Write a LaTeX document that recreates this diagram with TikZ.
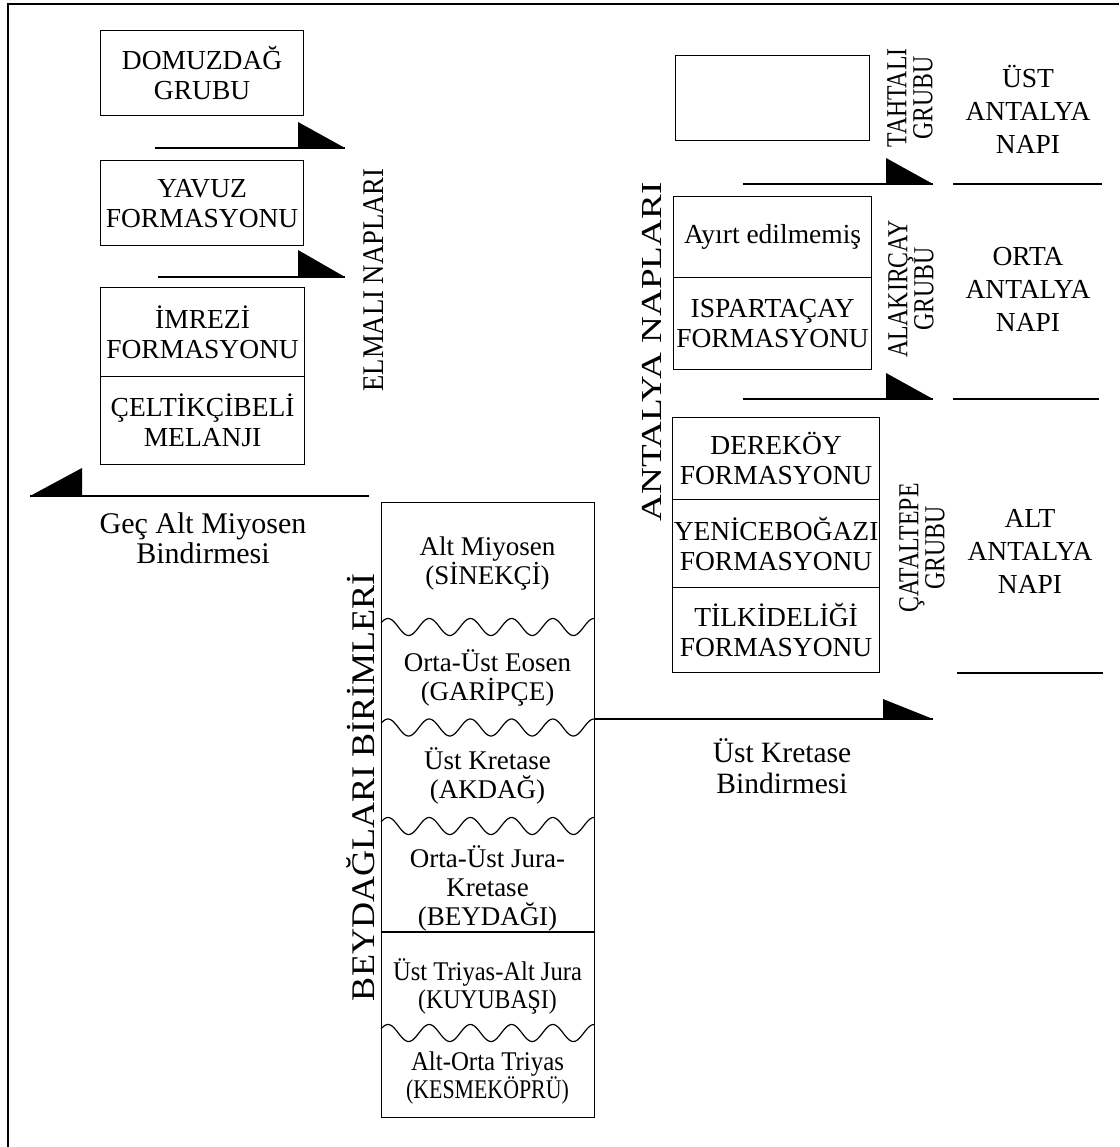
\documentclass[tikz,border=0pt]{standalone}
\usepackage{fontspec}
\setmainfont{Liberation Serif}
\newfontfamily\condfont[FakeStretch=0.82]{Liberation Serif}
\usepackage{graphicx}
\begin{document}
\begin{tikzpicture}[x=1pt,y=-1pt,
  box/.style={draw=black, line width=1.2pt, inner sep=0pt, align=center,
    font=\fontsize{27.5}{30}\selectfont},
  lbl/.style={inner sep=0pt, align=center},
  rot/.style={inner sep=0pt, rotate=90, align=center},
  grp/.style={inner sep=0pt, rotate=90, align=center, font=\condfont\fontsize{29}{26}\selectfont},
  thrust/.style={line width=1.5pt},
  sepline/.style={line width=2.6pt},
  wave/.style={line width=1.2pt},
  tri/.style={fill=black}
]
\useasboundingbox (0,0) rectangle (1119,1147);
% frame
\coordinate (f1) at (8,1147); \coordinate (f2) at (8,4); \coordinate (f3) at (1119,4);
\draw[line width=1.4pt] (f1) -- (f2) -- (f3);

% ---------- Elmali naplari ----------
\node[box, minimum width=203pt, minimum height=85pt, anchor=north west] (domuz) at (100,30) {DOMUZDAĞ\\GRUBU};
\node[box, minimum width=203pt, minimum height=85pt, anchor=north west] (yavuz) at (100,160) {YAVUZ\\FORMASYONU};
\node[box, minimum width=204pt, minimum height=89pt, anchor=north west] (imrezi) at (100,287) {İMREZİ\\FORMASYONU};
\node[box, minimum width=204pt, minimum height=88pt, anchor=north west] (celtik) at (100,376) {ÇELTİKÇİBELİ\\MELANJI};

\coordinate (t1s) at (155,148); \coordinate (t1e) at (345,148);
\draw[thrust] (t1s) -- (t1e);
\fill[tri] (t1e) -- ++(-47,0) -- ++(0,-26) -- cycle;
\coordinate (t2s) at (158,277); \coordinate (t2e) at (345,277);
\draw[thrust] (t2s) -- (t2e);
\fill[tri] (t2e) -- ++(-47,0) -- ++(0,-27) -- cycle;

\node[rot, font=\fontsize{30}{30}\selectfont] (elmali) at (374,280) {\resizebox{223pt}{\height}{ELMALI NAPLARI}};

\coordinate (lts) at (369,496); \coordinate (lte) at (30,496);
\draw[thrust] (lts) -- (lte);
\fill[tri] (lte) -- ++(52,0) -- ++(0,-28) -- cycle;
\node[lbl, font=\fontsize{30}{30}\selectfont] (gec) at (203,538) {Geç Alt Miyosen\\Bindirmesi};

% ---------- Beydaglari ----------
\node[draw=black, line width=1.2pt, inner sep=0pt, minimum width=213pt, minimum height=615pt, anchor=north west] (bey) at (381,502) {};
\foreach \yc in {627,727.5,826,1033}{
  \draw[wave] plot[domain=0:213, samples=160, smooth] ({381+\x},{\yc-8.5*cos((213-\x)*8.7379)});
}
\coordinate (bd1) at (381,932); \coordinate (bd2) at (594,932);
\draw[line width=1.2pt] (bd1) -- (bd2);

\node[lbl, font=\fontsize{27}{29}\selectfont] (b1) at (487.5,564) {Alt Miyosen\\(SİNEKÇİ)};
\node[lbl, font=\fontsize{27}{29}\selectfont] (b2) at (487.5,678) {Orta-Üst Eosen\\(GARİPÇE)};
\node[lbl, font=\fontsize{27}{29}\selectfont] (b3) at (487.5,776) {Üst Kretase\\(AKDAĞ)};
\node[lbl, font=\fontsize{27}{29}\selectfont] (b4) at (487.5,888) {Orta-Üst Jura-\\Kretase\\(BEYDAĞI)};
\node[lbl, font=\fontsize{27}{28}\selectfont] (b5) at (487.5,986) {\scalebox{0.91}[1]{Üst Triyas-Alt Jura}\\\scalebox{0.88}[1]{(KUYUBAŞI)}};
\node[lbl, font=\fontsize{27}{28}\selectfont] (b6) at (487.5,1078) {\scalebox{0.92}[1]{Alt-Orta Triyas}\\\scalebox{0.81}[1]{(KESMEKÖPRÜ)}};

\node[rot, font=\fontsize{33}{33}\selectfont] (beyl) at (361,787) {\resizebox{428pt}{\height}{BEYDAĞLARI BİRİMLERİ}};

\coordinate (uks) at (594,719); \coordinate (uke) at (933,719);
\draw[thrust] (uks) -- (uke);
\fill[tri] (uke) -- ++(-50,0) -- ++(0,-20) -- cycle;
\node[lbl, font=\fontsize{29.5}{31}\selectfont] (ukl) at (782,766) {Üst Kretase\\Bindirmesi};

% ---------- Antalya naplari ----------
\node[box, minimum width=194pt, minimum height=85pt, anchor=north west] (tahtali) at (675,55) {};
\node[box, minimum width=198pt, minimum height=81pt, anchor=north west] (ayirt) at (673,196) {Ayırt edilmemiş};
\node[box, minimum width=198pt, minimum height=92pt, anchor=north west] (isparta) at (673,277) {ISPARTAÇAY\\FORMASYONU};
\node[box, minimum width=207pt, minimum height=82pt, anchor=north west] (dere) at (672,417) {DEREKÖY\\FORMASYONU};
\node[box, minimum width=207pt, minimum height=88pt, anchor=north west] (yeni) at (672,499) {YENİCEBOĞAZI\\FORMASYONU};
\node[box, minimum width=207pt, minimum height=85pt, anchor=north west] (tilki) at (672,587) {TİLKİDELİĞİ\\FORMASYONU};

\node[rot, font=\fontsize{29}{29}\selectfont] (antl) at (652,352) {\resizebox{339pt}{\height}{ANTALYA NAPLARI}};

\node[grp] (tahg) at (910,98) {TAHTALI\\GRUBU};
\node[grp] (alag) at (911,289) {ALAKIRÇAY\\GRUBU};
\node[grp] (catg) at (922,548) {ÇATALTEPE\\GRUBU};

\coordinate (r1s) at (743,184); \coordinate (r1e) at (933,184);
\draw[thrust] (r1s) -- (r1e);
\fill[tri] (r1e) -- ++(-47,0) -- ++(0,-26) -- cycle;
\coordinate (r2s) at (743,399); \coordinate (r2e) at (933,399);
\draw[thrust] (r2s) -- (r2e);
\fill[tri] (r2e) -- ++(-47,0) -- ++(0,-26) -- cycle;

\coordinate (s1a) at (953,184); \coordinate (s1b) at (1102,184);
\draw[sepline] (s1a) -- (s1b);
\coordinate (s2a) at (953,399); \coordinate (s2b) at (1099,399);
\draw[sepline] (s2a) -- (s2b);
\coordinate (s3a) at (957,673); \coordinate (s3b) at (1103,673);
\draw[sepline] (s3a) -- (s3b);

\node[lbl, font=\fontsize{27.5}{33}\selectfont] (ust) at (1028,109) {ÜST\\ANTALYA\\NAPI};
\node[lbl, font=\fontsize{27.5}{33}\selectfont] (orta) at (1028,289) {ORTA\\ANTALYA\\NAPI};
\node[lbl, font=\fontsize{27.5}{33}\selectfont] (alt) at (1030,551) {ALT\\ANTALYA\\NAPI};
\end{tikzpicture}
\end{document}
